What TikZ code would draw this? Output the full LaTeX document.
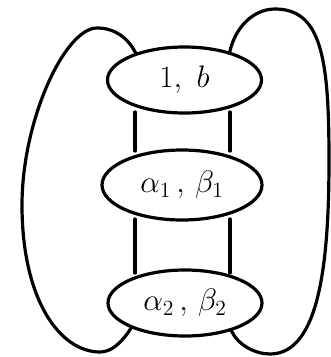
\documentclass[tikz,border=0pt]{standalone}
\usepackage{graphicx}
\usetikzlibrary{shapes.geometric}
\newcommand{\bigtxt}[1]{\scalebox{1.5}{\huge$#1$}}
\begin{document}
\begin{tikzpicture}[x=1pt,y=-1pt,line width=3.2pt,line join=round,line cap=round,
  oval/.style={draw,ellipse,fill=white,inner sep=0pt}]
\useasboundingbox (0,0) rectangle (331,357);
\node[oval,minimum width=154pt,minimum height=66pt] (top) at (184.5,80) {\bigtxt{1,\ b}};
\node[oval,minimum width=160pt,minimum height=70pt] (mid) at (182,185) {\bigtxt{\alpha_1\,,\,\beta_1}};
\node[oval,minimum width=154pt,minimum height=66pt] (bot) at (185,303) {\bigtxt{\alpha_2\,,\,\beta_2}};
\coordinate (l1) at (135,112);
\coordinate (l2) at (135,151);
\coordinate (r1) at (230,112);
\coordinate (r2) at (230,151);
\coordinate (l3) at (135,219);
\coordinate (l4) at (135,273);
\coordinate (r3) at (230,219);
\coordinate (r4) at (230,273);
\draw (l1) -- (l2);
\draw (r1) -- (r2);
\draw (l3) -- (l4);
\draw (r3) -- (r4);
\draw (top.151) .. controls (128,38) and (115,28) .. (97,28)
  .. controls (65,28) and (22,120) .. (22,205)
  .. controls (22,300) and (60,352) .. (100,352)
  .. controls (112,352) and (122,342) .. (bot.205);
\draw (top.32) .. controls (236,25) and (255,9) .. (275,9)
  .. controls (322,9) and (329,60) .. (329,160)
  .. controls (329,260) and (320,354) .. (270,354)
  .. controls (255,354) and (238,345) .. (bot.329);
\end{tikzpicture}
\end{document}
